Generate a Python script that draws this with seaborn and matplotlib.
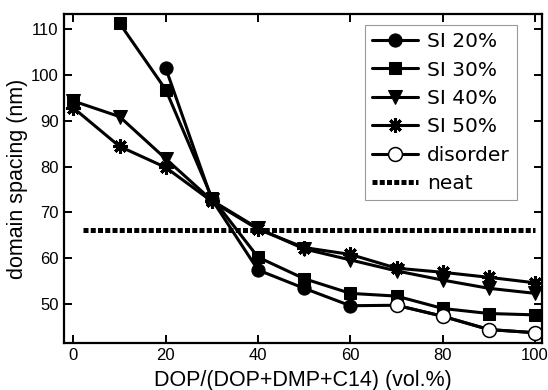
import matplotlib
matplotlib.use('Agg')
import matplotlib.pyplot as plt
import seaborn as sns

# values
x_si20 = [20, 30, 40, 50, 60]
y_si20 = [101.5, 72.8, 57.4, 53.4, 49.6]

x_si30 = [10, 20, 30, 40, 50, 60, 70, 80, 90, 100]
y_si30 = [111.3, 96.8, 73.2, 60.2, 55.5, 52.3, 51.7, 49.0, 47.9, 47.6]
x_si30_lone = [0]
y_si30_lone = [94.6]

x_si40 = [0, 10, 20, 30, 40, 50, 60, 70, 80, 90, 100]
y_si40 = [94.3, 90.9, 81.7, 72.6, 66.5, 62.0, 59.6, 57.2, 55.2, 53.4, 52.3]

x_si50 = [0, 10, 20, 30, 40, 50, 60, 70, 80, 90, 100]
y_si50 = [92.8, 84.4, 79.8, 72.4, 66.3, 62.3, 60.8, 57.8, 56.9, 55.8, 54.6]

x_dis = [70, 80, 90, 100]
y_dis = [49.7, 47.3, 44.4, 43.7]

x_neat = [2, 100]
y_neat = [66.1, 66.1]

sns.set_style('ticks')
plt.rcParams['font.family'] = ['Liberation Sans', 'DejaVu Sans']
plt.rcParams['text.color'] = 'black'
plt.rcParams['axes.labelcolor'] = 'black'
plt.rcParams['xtick.color'] = 'black'
plt.rcParams['ytick.color'] = 'black'
plt.rcParams['axes.edgecolor'] = 'black'

fig = plt.figure(figsize=(5.48, 3.9), dpi=100)
ax = fig.add_axes([0.117, 0.121, 0.872, 0.843])

lw = 2.2

# link between SI 20% and the disorder branch
sns.lineplot(x=[x_si20[-1]] + x_dis, y=[y_si20[-1]] + y_dis, ax=ax, color='black',
             linewidth=lw, sort=False, legend=False)

sns.lineplot(x=x_si20, y=y_si20, ax=ax, color='black', linewidth=lw, marker='o',
             markersize=9.5, mec='black', mfc='black', sort=False, label='SI 20%')
sns.lineplot(x=x_si30, y=y_si30, ax=ax, color='black', linewidth=lw, marker='s',
             markersize=8.5, mec='black', mfc='black', sort=False, label='SI 30%')
sns.scatterplot(x=x_si30_lone, y=y_si30_lone, ax=ax, color='black', marker='s',
                s=8.5 ** 2, edgecolor='black', legend=False)
sns.lineplot(x=x_si40, y=y_si40, ax=ax, color='black', linewidth=lw, marker='v',
             markersize=10.5, mec='black', mfc='black', sort=False, label='SI 40%')
sns.lineplot(x=x_si50, y=y_si50, ax=ax, color='black', linewidth=lw, marker=(8, 2, 0),
             markersize=10.5, mew=2.2, mec='black', sort=False, label='SI 50%')
sns.lineplot(x=x_dis, y=y_dis, ax=ax, color='black', linewidth=lw, marker='o',
             markersize=10, mec='black', mew=1.1, mfc='white', sort=False, label='disorder')
sns.lineplot(x=x_neat, y=y_neat, ax=ax, color='black', linewidth=3.6,
             linestyle=(0, (1, 0.45)), sort=False, label='neat')

ax.set_xlim(-2, 101.5)
ax.set_ylim(41.5, 113.3)
ax.set_xticks([0, 20, 40, 60, 80, 100])
ax.set_yticks([50, 60, 70, 80, 90, 100, 110])
ax.tick_params(direction='in', top=True, right=True, length=5.5, width=1.4,
               labelsize=12, pad=4)
for sp in ax.spines.values():
    sp.set_linewidth(1.6)
    sp.set_visible(True)

ax.set_xlabel('DOP/(DOP+DMP+C14) (vol.%)', fontsize=15.5, labelpad=5)
ax.set_ylabel('domain spacing (nm)', fontsize=15.5, labelpad=2)

leg = ax.legend(loc='upper right', bbox_to_anchor=(0.948, 0.9666), borderaxespad=0,
                prop={'family': 'DejaVu Sans', 'size': 14.5}, handlelength=2.3,
                handletextpad=0.45, labelspacing=0.47, borderpad=0.35,
                fancybox=False, framealpha=1, edgecolor='#999999')
leg.get_frame().set_linewidth(0.8)

fig.savefig('out.png', dpi=100)
